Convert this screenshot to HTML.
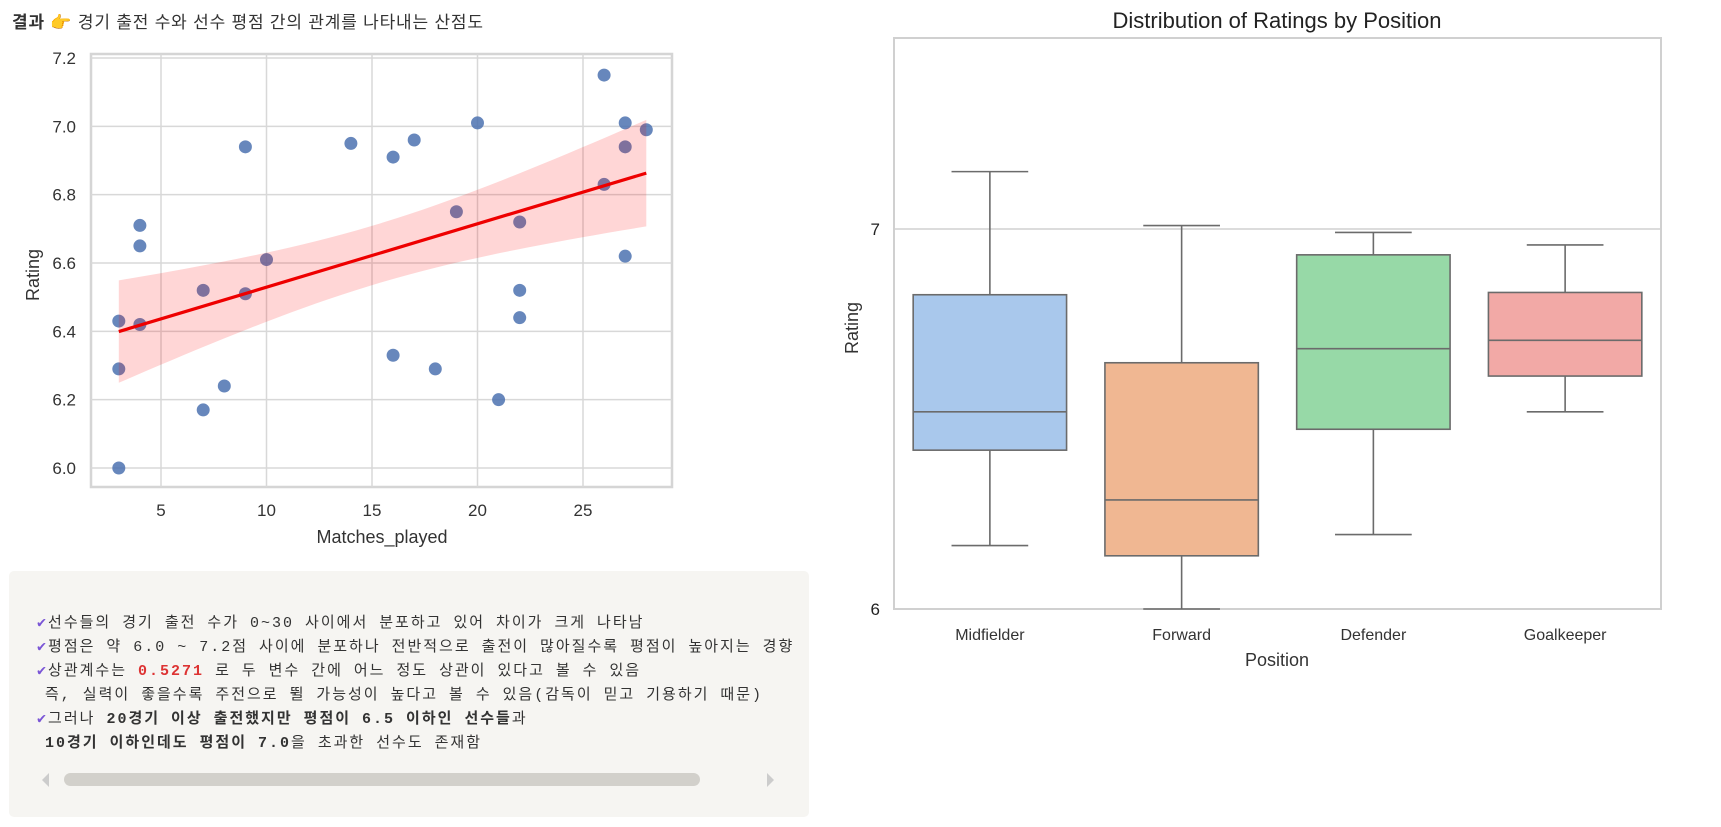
<!DOCTYPE html>
<html><head><meta charset="utf-8">
<style>
body{margin:0;width:1721px;height:827px;background:#fff;overflow:hidden;position:relative;font-family:"Liberation Sans","Noto Sans CJK KR",sans-serif;}
#hdr{position:absolute;left:12px;top:8px;font-size:17px;letter-spacing:0.8px;color:#333;white-space:nowrap;}
#box{position:absolute;left:9px;top:571px;width:800px;height:246px;background:#f6f5f2;border-radius:5px;}
.ln{position:absolute;left:28px;font-family:"Liberation Mono","Noto Sans CJK KR",monospace;font-size:15px;letter-spacing:2px;color:#333;white-space:nowrap;}
.ck{color:#7a55d6;}
svg{position:absolute;left:0;top:0;}
</style></head><body>
<div id="hdr"><b>결과</b> <span style="color:#f3d3c3">👉</span> 경기 출전 수와 선수 평점 간의 관계를 나타내는 산점도</div>
<div id="box" style="overflow:hidden">
 <div class="ln" style="top:40px"><span class="ck">✔</span>선수들의 경기 출전 수가 0~30 사이에서 분포하고 있어 차이가 크게 나타남</div>
 <div class="ln" style="top:64px"><span class="ck">✔</span>평점은 약 6.0 ~ 7.2점 사이에 분포하나 전반적으로 출전이 많아질수록 평점이 높아지는 경향</div>
 <div class="ln" style="top:88px"><span class="ck">✔</span>상관계수는 <b style="color:#d33">0.5271</b> 로 두 변수 간에 어느 정도 상관이 있다고 볼 수 있음</div>
 <div class="ln" style="top:112px;left:36px">즉, 실력이 좋을수록 주전으로 뛸 가능성이 높다고 볼 수 있음(감독이 믿고 기용하기 때문)</div>
 <div class="ln" style="top:136px"><span class="ck">✔</span>그러나 <b>20경기 이상 출전했지만 평점이 6.5 이하인 선수들</b>과</div>
 <div class="ln" style="top:160px;left:36px"><b>10경기 이하인데도 평점이 7.0</b>을 초과한 선수도 존재함</div>
 <div style="position:absolute;left:33px;top:202px;width:0;height:0;border-top:7px solid transparent;border-bottom:7px solid transparent;border-right:7px solid #ccc"></div>
 <div style="position:absolute;left:55px;top:202px;width:636px;height:13px;background:#d2d0cb;border-radius:7px"></div>
 <div style="position:absolute;left:758px;top:202px;width:0;height:0;border-top:7px solid transparent;border-bottom:7px solid transparent;border-left:7px solid #ccc"></div>
</div>
<svg id="s" width="1721" height="827"></svg>
<script>
// scatter data
const matches=[3,3,3,4,4,4,7,7,8,9,9,10,14,16,16,17,18,19,20,21,22,22,22,26,26,27,27,27,28];
const ratings=[6.43,6.29,6.0,6.71,6.65,6.42,6.52,6.17,6.24,6.94,6.51,6.61,6.95,6.91,6.33,6.96,6.29,6.75,7.01,6.20,6.72,6.52,6.44,7.15,6.83,7.01,6.94,6.62,6.99];
const xTicks=[5,10,15,20,25];
const yTicks=[6.0,6.2,6.4,6.6,6.8,7.0,7.2];
// box data
const positions=["Midfielder","Forward","Defender","Goalkeeper"];
const wLow=[6.167,6.0,6.196,6.519];
const q1=[6.418,6.140,6.473,6.613];
const med=[6.519,6.287,6.685,6.707];
const q3=[6.827,6.648,6.932,6.833];
const wHigh=[7.151,7.009,6.991,6.958];
const boxColors=["#a9c8ec","#f0b792","#97d9a7","#f2a9a6"];
const boxYTicks=[6,7];

const S=document.getElementById('s');const NS='http://www.w3.org/2000/svg';
function mk(t,a,txt){const e=document.createElementNS(NS,t);for(const k in a)e.setAttribute(k,a[k]);if(txt!=null)e.textContent=txt;S.appendChild(e);return e;}

const L=91,R=672,T=54,B=487;
const sx=v=>161+(v-5)*(583-161)/20;
const sy=v=>468-(v-6.0)*(468-58)/1.2;
let e=mk('rect',{x:L,y:T,width:R-L,height:B-T,fill:'#fff',stroke:'#d5d5d5','stroke-width':2.5});

xTicks.forEach(t=>{let g=mk('line',{x1:sx(t),x2:sx(t),y1:T,y2:B,stroke:'#d8d8d8','stroke-width':1.5});
 let l=mk('text',{x:sx(t),y:B+29,'font-size':17,fill:'#333','text-anchor':'middle'},t);});
yTicks.forEach(t=>{let g=mk('line',{x1:L,x2:R,y1:sy(t),y2:sy(t),stroke:'#d8d8d8','stroke-width':1.5});
 let l=mk('text',{x:76,y:sy(t)+6,'font-size':17,fill:'#333','text-anchor':'end'},t.toFixed(1));});
e=mk('text',{x:382,y:543,'font-size':18,fill:'#333','text-anchor':'middle'},'Matches_played');
e=mk('text',{x:0,y:0,'font-size':18,fill:'#333','text-anchor':'middle',transform:'translate(39,275) rotate(-90)'},'Rating');
matches.forEach((m,i)=>{let c=mk('circle',{cx:sx(m),cy:sy(ratings[i]),r:6.5,fill:'#4c72b0','fill-opacity':0.85});});
const n=matches.length,mx=matches.reduce((a,b)=>a+b)/n,my=ratings.reduce((a,b)=>a+b)/n;
let sxx=0,sxy=0;matches.forEach((m,i)=>{sxx+=(m-mx)**2;sxy+=(m-mx)*(ratings[i]-my);});
const slope=sxy/sxx,icpt=my-slope*mx;
let sse=0;matches.forEach((m,i)=>{sse+=(ratings[i]-icpt-slope*m)**2;});
const se=Math.sqrt(sse/(n-2)),tv=1.75;
const x0=Math.min(...matches),x1=Math.max(...matches);
let up=[],lo=[];
for(let k=0;k<=40;k++){const x=x0+(x1-x0)*k/40,yh=icpt+slope*x,h=tv*se*Math.sqrt(1/n+(x-mx)**2/sxx);up.push(sx(x)+','+sy(yh+h));lo.unshift(sx(x)+','+sy(yh-h));}
e=mk('polygon',{points:up.concat(lo).join(' '),fill:'#ff0000','fill-opacity':0.16});
e=mk('line',{x1:sx(x0),y1:sy(icpt+slope*x0),x2:sx(x1),y2:sy(icpt+slope*x1),stroke:'#ee0000','stroke-width':3.2});

const BL=894,BR=1661,BT=38,BB=609;
const by=v=>609-(v-6)*380;
const cw=(BR-BL)/positions.length,bx=i=>BL+cw*(i+0.5),bw=cw*0.8;
e=mk('rect',{x:BL,y:BT,width:BR-BL,height:BB-BT,fill:'#fff',stroke:'#d0d0d0','stroke-width':2});
boxYTicks.forEach(t=>{let g=mk('line',{x1:BL,x2:BR,y1:by(t),y2:by(t),stroke:'#d0d0d0','stroke-width':1.5});
 let l=mk('text',{x:880,y:by(t)+6,'font-size':17,fill:'#222','text-anchor':'end'},t);});
positions.forEach((p,i)=>{const c=bx(i);
 let w=mk('line',{x1:c,x2:c,y1:by(wHigh[i]),y2:by(q3[i]),stroke:'#6b6b6b','stroke-width':1.6});
 w=mk('line',{x1:c,x2:c,y1:by(q1[i]),y2:by(wLow[i]),stroke:'#6b6b6b','stroke-width':1.6});
 w=mk('line',{x1:c-bw/4,x2:c+bw/4,y1:by(wHigh[i]),y2:by(wHigh[i]),stroke:'#6b6b6b','stroke-width':1.6});
 w=mk('line',{x1:c-bw/4,x2:c+bw/4,y1:by(wLow[i]),y2:by(wLow[i]),stroke:'#6b6b6b','stroke-width':1.6});
 let b=mk('rect',{x:c-bw/2,y:by(q3[i]),width:bw,height:by(q1[i])-by(q3[i]),fill:boxColors[i],stroke:'#6b6b6b','stroke-width':1.6});
 let m=mk('line',{x1:c-bw/2,x2:c+bw/2,y1:by(med[i]),y2:by(med[i]),stroke:'#6b6b6b','stroke-width':1.6});
 let l=mk('text',{x:c,y:640,'font-size':16,fill:'#333','text-anchor':'middle'},p);
});
e=mk('text',{x:1277,y:666,'font-size':18,fill:'#333','text-anchor':'middle'},'Position');
e=mk('text',{x:0,y:0,'font-size':18,fill:'#333','text-anchor':'middle',transform:'translate(858,328) rotate(-90)'},'Rating');
e=mk('text',{x:1277,y:28,'font-size':22,fill:'#222','text-anchor':'middle'},'Distribution of Ratings by Position');
</script>
</body></html>
